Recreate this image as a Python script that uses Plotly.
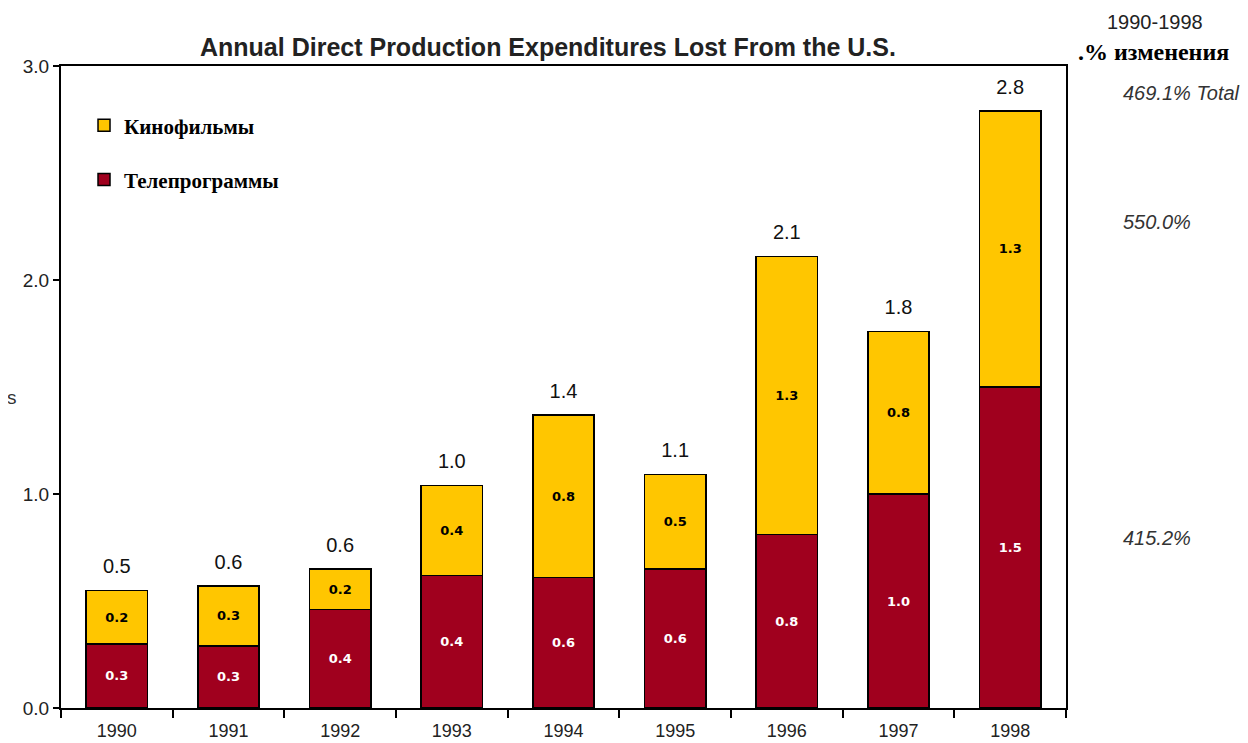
import plotly.graph_objects as go

years = ["1990", "1991", "1992", "1993", "1994", "1995", "1996", "1997", "1998"]
tv_values = [0.30, 0.29, 0.46, 0.62, 0.61, 0.65, 0.81, 1.00, 1.50]
film_values = [0.25, 0.28, 0.19, 0.42, 0.76, 0.44, 1.30, 0.76, 1.29]
tv_labels = ["0.3", "0.3", "0.4", "0.4", "0.6", "0.6", "0.8", "1.0", "1.5"]
film_labels = ["0.2", "0.3", "0.2", "0.4", "0.8", "0.5", "1.3", "0.8", "1.3"]
total_labels = ["0.5", "0.6", "0.6", "1.0", "1.4", "1.1", "2.1", "1.8", "2.8"]
totals = [a + b for a, b in zip(tv_values, film_values)]

change_labels = ["469.1% Total", "550.0%", "415.2%"]
change_y = [2.874, 2.271, 0.794]

FILM = "#FFC600"
TV = "#A0001E"

fig = go.Figure()
fig.add_trace(go.Bar(
    x=years, y=tv_values, name="Телепрограммы", legendgroup="tv", legendrank=2,
    marker=dict(color=TV, line=dict(color="black", width=1.5)),
    text=tv_labels, textposition="inside", insidetextanchor="middle",
    constraintext="none",
    textfont=dict(family="DejaVu Sans", size=13, color="white", weight="bold"),
    hoverinfo="skip",
))
fig.add_trace(go.Bar(
    x=years, y=film_values, name="Кинофильмы", legendgroup="film", legendrank=1,
    marker=dict(color=FILM, line=dict(color="black", width=1.5)),
    text=film_labels, textposition="inside", insidetextanchor="middle",
    constraintext="none",
    textfont=dict(family="DejaVu Sans", size=13, color="black", weight="bold"),
    hoverinfo="skip",
))
fig.add_trace(go.Scatter(
    x=years, y=totals, mode="markers+text", text=total_labels, textposition="top center",
    marker=dict(size=18, opacity=0),
    textfont=dict(family="Liberation Sans, Arial", size=20, color="#111111"),
    showlegend=False, hoverinfo="skip",
))

fig.update_layout(
    width=1240, height=735,
    margin=dict(l=53, r=182, t=58, b=35),
    paper_bgcolor="white", plot_bgcolor="white",
    barmode="stack", bargap=0.45,
    showlegend=True,
    legend=dict(
        x=0.0229, y=0.939, xanchor="left", yanchor="top",
        traceorder="grouped", tracegroupgap=24,
        font=dict(family="Liberation Serif, Times New Roman", size=21, color="black", weight="bold"),
        bgcolor="rgba(0,0,0,0)",
    ),
    font=dict(family="Liberation Sans, Arial", color="#222222"),
    xaxis=dict(
        type="category", range=[-0.5, len(years) - 0.5],
        showline=True, linecolor="black", linewidth=2, mirror=True,
        ticks="outside", tickson="boundaries", ticklen=8, tickwidth=2, tickcolor="black",
        tickfont=dict(size=18, color="#222222"), showgrid=False,
        automargin=False, ticklabelstandoff=5,
    ),
    yaxis=dict(
        range=[0, 3], tickvals=[0, 1, 2, 3], ticktext=["0.0", "1.0", "2.0", "3.0"],
        showline=True, linecolor="black", linewidth=2, mirror=True,
        ticks="outside", ticklen=6, tickwidth=2, tickcolor="black",
        tickfont=dict(size=19, color="#222222"), showgrid=False, zeroline=False,
        automargin=False,
    ),
)

fig.add_annotation(
    text="<b>Annual Direct Production Expenditures Lost From the U.S.</b>",
    xref="paper", yref="paper", x=0.4846, y=1.0296, yanchor="middle",
    showarrow=False, font=dict(family="Liberation Sans, Arial", size=25, color="#222222"),
)
fig.add_annotation(
    text="1990-1998", xref="paper", yref="paper", x=1.039, y=1.0685, xanchor="left",
    yanchor="middle", showarrow=False,
    font=dict(family="Liberation Sans, Arial", size=20, color="#222222"),
)
fig.add_annotation(
    text="<b>.% изменения</b>", xref="paper", yref="paper", x=1.010, y=1.0218, xanchor="left",
    yanchor="middle", showarrow=False,
    font=dict(family="Liberation Serif, Times New Roman", size=24, color="black"),
)
for lbl, yy in zip(change_labels, change_y):
    fig.add_annotation(
        text="<i>" + lbl + "</i>", xref="paper", yref="y", x=1.0547, y=yy, xanchor="left",
        showarrow=False, font=dict(family="Liberation Sans, Arial", size=20, color="#333333"),
    )
fig.add_annotation(
    text="s", xref="paper", yref="y", x=-0.049, y=1.45, xanchor="center",
    showarrow=False, font=dict(family="Liberation Sans, Arial", size=19, color="#333333"),
)

fig.write_html("out.html")
